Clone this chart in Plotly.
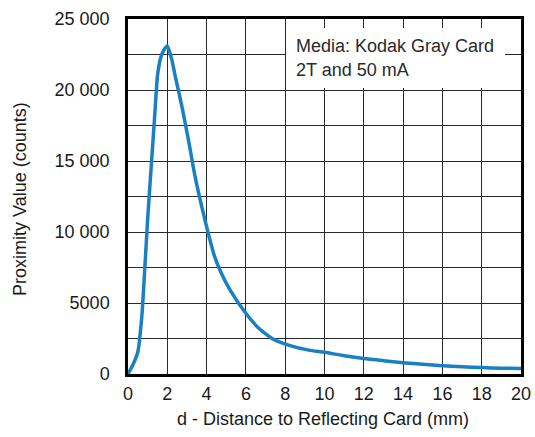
import plotly.graph_objects as go

distance_mm = [0, 0.25, 0.5, 0.7, 0.85, 1.0, 1.2, 1.35, 1.5, 1.65, 1.8, 2.0, 2.2, 2.4,
               2.75, 3.1, 3.4, 3.75, 4.05, 4.4, 4.75, 5.2, 5.9, 6.6, 7.4, 8.25, 9.2,
               10, 11, 12, 13, 14, 15, 16, 17, 18, 19, 20]
proximity = [0, 650, 1550, 4000, 7300, 10900, 15000, 18000, 21000, 22200, 22750, 23100,
             22300, 21000, 18800, 16300, 14000, 11800, 10100, 8300, 7100, 5900, 4450,
             3300, 2450, 2000, 1680, 1530, 1290, 1090, 940, 800, 680, 580, 510, 450, 410, 380]

x_tick_vals = list(range(0, 21, 2))
x_tick_text = [str(v) for v in x_tick_vals]
y_tick_vals = [0, 2500, 5000, 7500, 10000, 12500, 15000, 17500, 20000, 22500, 25000]
y_tick_text = ["0", "", "5000", "", "10 000", "", "15 000", "", "20 000", "", "25 000"]

x_title = "d - Distance to Reflecting Card (mm)"
y_title = "Proximity Value (counts)"
legend_lines = ["Media: Kodak Gray Card", "2T and 50 mA"]

fig = go.Figure()
fig.add_trace(go.Scatter(
    x=distance_mm, y=proximity, mode="lines",
    line=dict(color="#1a80c4", width=3.5, shape="spline", smoothing=0.6),
    showlegend=False, hoverinfo="skip",
))

font_main = dict(family="Liberation Sans, Arial, sans-serif", size=18, color="#1a1a1a")

fig.update_layout(
    width=535, height=437,
    margin=dict(l=128, r=14, t=19, b=63, autoexpand=False),
    paper_bgcolor="white", plot_bgcolor="white",
    font=font_main,
    xaxis=dict(
        range=[0, 20], tickvals=x_tick_vals, ticktext=x_tick_text,
        showgrid=True, gridcolor="#2a2a2a", gridwidth=1,
        showline=True, linecolor="black", linewidth=2.5, mirror=True,
        zeroline=False, ticks="", ticklabelstandoff=2, automargin=False,
        ticklabeloverflow="allow",
    ),
    yaxis=dict(
        range=[0, 25000], tickvals=y_tick_vals, ticktext=y_tick_text,
        showgrid=True, gridcolor="#2a2a2a", gridwidth=1,
        showline=True, linecolor="black", linewidth=2.5, mirror=True,
        zeroline=False, ticks="", ticklabelstandoff=12, automargin=False,
        ticklabeloverflow="allow",
    ),
)

fig.add_annotation(
    x=0.496, y=-0.127, xref="paper", yref="paper", xanchor="center", yanchor="middle",
    text=x_title, showarrow=False, font=font_main,
)
fig.add_annotation(
    x=-0.275, y=0.493, xref="paper", yref="paper", xanchor="center", yanchor="middle",
    text=y_title, showarrow=False, textangle=-90, font=font_main,
)

fig.add_annotation(
    x=8.05, y=24400, xref="x", yref="y", xanchor="left", yanchor="top",
    text="<br>".join(legend_lines), showarrow=False, align="left",
    bgcolor="white", borderwidth=0, borderpad=10,
    width=199, height=40, valign="middle",
    font=dict(family="Liberation Sans, Arial, sans-serif", size=18, color="#2a2a2a"),
)

fig.write_html(
    "out.html",
    config={"displayModeBar": False},
    post_script="document.body.style.margin='0';document.body.style.overflow='hidden';",
)
